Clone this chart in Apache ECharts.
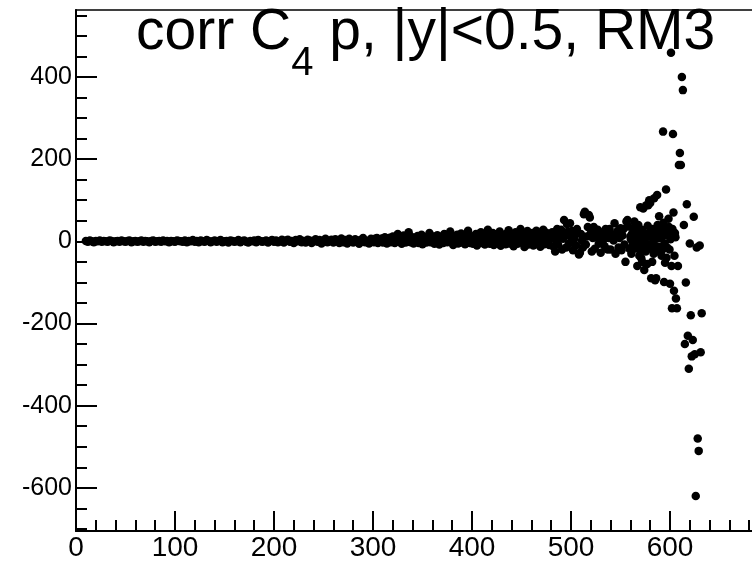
<!DOCTYPE html>
<html>
<head>
<meta charset="utf-8">
<script src="https://cdn.jsdelivr.net/npm/echarts@6/dist/echarts.min.js"></script>
<style>html,body{margin:0;padding:0;background:#fff;}#c{width:752px;height:563px;}</style>
</head>
<body>
<div id="c"></div>
<script>
// Band A: x = 10, 12, ..., 298
const bandAStart = 10, bandAStep = 2;
const bandA = [1,-1,2,0,-2,1,0,2,-1,1,0,-1,2,1,-2,0,1,-1,2,0,-1,1,2,-2,0,1,-1,0,2,-1,1,0,-2,1,2,-1,0,1,-1,2,0,1,-2,1,0,-1,2,1,0,-1,
  2,-2,1,0,3,-1,1,-2,2,0,-1,3,1,-2,0,2,-1,1,3,-2,0,1,-3,2,1,-1,0,3,-2,1,2,-1,-3,1,0,2,-2,3,1,-1,0,2,-3,1,3,-1,2,-2,0,4,
  -3,2,4,-1,1,-4,3,0,5,-2,1,-3,4,2,-4,0,5,-1,3,-5,2,6,-2,0,4,-3,5,1,-4,7,-2,3,-5,6,0,-3,5,2,-6,4,8,-2,1,-5,6];
// Band B: x = 300, 301, ..., 479
const bandBStart = 300, bandBStep = 1;
const bandB = [3,-2,6,0,8,-4,2,5,-1,7,-3,4,10,1,-5,6,2,9,-2,4,
  12,0,-4,7,3,18,-1,5,9,-6,2,14,4,-3,8,1,22,6,-2,5,
  10,-5,3,8,0,13,-4,6,2,16,-7,4,9,1,-3,11,5,20,-2,7,
  3,12,-6,8,1,15,4,-8,10,2,6,-4,18,0,9,-2,13,5,24,1,
  7,-9,4,11,0,16,-5,8,3,19,-3,10,6,-7,14,2,26,5,-4,9,
  12,-6,8,3,18,-10,6,14,1,22,-4,9,16,-8,5,11,28,2,-6,13,
  7,20,-9,10,4,17,-2,12,24,-11,6,15,0,9,-7,19,3,27,-5,11,
  14,1,-12,8,22,5,-6,16,10,30,-3,12,7,-14,18,4,25,-8,9,15,
  2,20,-10,11,6,26,-5,14,8,-13,17,3,28,-7,12,21,0,10,-9,16];
// Band C: x = 480, 481, ..., 559
const bandCStart = 480, bandCStep = 1;
const bandC = [8,22,-12,15,-25,4,30,-8,18,12,28,-20,6,52,14,-15,42,24,-5,44,
  10,25,-22,5,15,-10,30,20,-32,-28,18,2,-15,66,72,-8,12,35,64,58,
  20,-25,8,35,-18,14,10,28,-6,22,-28,15,0,22,-12,30,18,-20,8,30,
  -20,12,15,2,44,-30,20,25,-15,8,32,-22,14,30,-8,-50,48,52,36,-18];
// Tail: individual points for x >= 560
const tailX = [560,561,562,563,564,565,566,567,568,569,570,571,572,573,574,575,576,577,578,579,580,581,582,583,584,585,586,587,588,589,590,591,592,593,594,595,596,597,598,599,600,601,602,603,604,605,606,607,608,609,610,611,612,613,614,615,616,617,618,619,620,621,622,623,624,625,626,627,628,629,630,631,632];
const tailY = [12,-30,-21,30,48,-10,20,-60,40,-35,83,-41,-50,80,-70,10,88,-55,88,100,93,-90,-50,-9,105,-95,-90,113,30,61,-13,35,-21,267,-99,-52,126,-15,20,35,-103,459,-163,261,-120,20,-139,-163,-60,186,215,186,400,368,40,-250,-100,90,-230,-310,-5,-180,-280,-240,60,-275,-620,-15,-480,-510,-10,-270,-175];
// Tail, second set of bins (x = 560.5 ... 605.5), the dense cluster near zero
const tail2X = [560.5,561.5,562.5,563.5,564.5,565.5,566.5,567.5,568.5,569.5,570.5,571.5,572.5,573.5,574.5,575.5,576.5,577.5,578.5,579.5,580.5,581.5,582.5,583.5,584.5,585.5,586.5,587.5,588.5,589.5,590.5,591.5,592.5,593.5,594.5,595.5,596.5,597.5,598.5,599.5,600.5,601.5,602.5,603.5,604.5,605.5];
const tail2Y = [5,18,-8,25,-15,10,32,-5,15,-22,8,28,-12,20,2,-25,14,38,-8,22,-18,10,30,-30,5,18,-12,40,-25,8,22,-35,12,45,-5,28,-40,15,55,-20,5,-60,30,70,-35,10];

const xTicks = [0,100,200,300,400,500,600];
const yMajor = [-600,-400,-200,0,200,400];
const yMinor = [-700,-650,-600,-550,-500,-450,-400,-350,-300,-250,-200,-150,-100,-50,0,50,100,150,200,250,300,350,400,450,500,550];

const pts = [];
bandA.forEach((v,i)=>pts.push([bandAStart+bandAStep*i, v]));
bandB.forEach((v,i)=>pts.push([bandBStart+bandBStep*i, v]));
bandC.forEach((v,i)=>pts.push([bandCStart+bandCStep*i, v]));
tailX.forEach((x,i)=>pts.push([x, tailY[i]]));
tail2X.forEach((x,i)=>pts.push([x, tail2Y[i]]));

const FONT = 'Liberation Sans, Arial, Helvetica, sans-serif';
const chart = echarts.init(document.getElementById('c'), null, {renderer:'canvas'});
chart.setOption({
  animation: false,
  backgroundColor: '#fff',
  title: {
    left: 136, top: 5, padding: 0,
    text: '{m|corr C}{s|4}{m| p, |y|<0.5, RM3}',
    textStyle: {
      fontWeight: 'normal',
      rich: {
        m: {fontSize: 57, fontWeight: 'normal', fontFamily: FONT, color: '#000', lineHeight: 60, verticalAlign: 'top'},
        s: {fontSize: 40, fontWeight: 'normal', fontFamily: FONT, color: '#000', lineHeight: 40, padding: [39,0,0,0], verticalAlign: 'top'}
      }
    }
  },
  grid: {left: 76, top: 10, width: 693, height: 521, outerBoundsMode: 'none', containLabel: false,
         show: true, borderColor: '#000', borderWidth: 1.5, backgroundColor: 'transparent'},
  xAxis: {
    type: 'value', min: 0, max: 700, interval: 100,
    axisLine: {show: true, onZero: false, lineStyle: {color: '#000', width: 2}},
    axisTick: {show: true, inside: true, length: 20, lineStyle: {color: '#000', width: 2}},
    minorTick: {show: true, splitNumber: 5, length: 11, lineStyle: {color: '#000', width: 2}},
    axisLabel: {color: '#000', fontSize: 28, fontFamily: FONT, margin: 3, customValues: xTicks},
    splitLine: {show: false}
  },
  yAxis: [{
    type: 'value', min: -705, max: 563,
    axisLine: {show: true, onZero: false, lineStyle: {color: '#000', width: 2}},
    axisTick: {show: true, inside: true, length: 21, lineStyle: {color: '#000', width: 2}, customValues: yMajor},
    axisLabel: {color: '#000', fontSize: 25, fontFamily: FONT, margin: 4, customValues: yMajor},
    splitLine: {show: false}
  }, {
    type: 'value', min: -705, max: 563, position: 'left',
    axisLine: {show: false},
    axisTick: {show: true, inside: true, length: 11, lineStyle: {color: '#000', width: 2}, customValues: yMinor},
    axisLabel: {show: false},
    splitLine: {show: false}
  }],
  series: [{
    type: 'scatter', data: pts, symbol: 'circle', symbolSize: 8.5,
    itemStyle: {color: '#000', opacity: 1}, yAxisIndex: 0
  }]
});
</script>
</body>
</html>
